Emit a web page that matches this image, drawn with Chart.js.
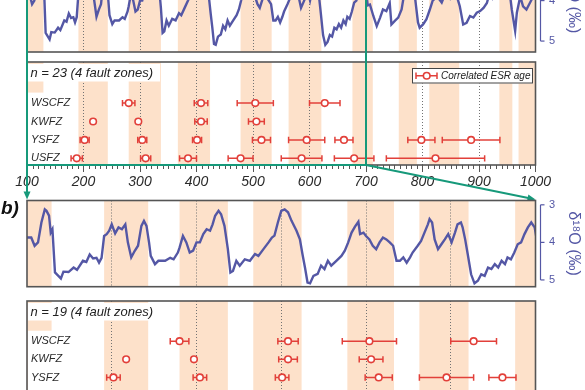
<!DOCTYPE html>
<html><head><meta charset="utf-8">
<script src="https://cdn.jsdelivr.net/npm/chart.js@4/dist/chart.umd.min.js"></script>
<style>
html,body{margin:0;padding:0;background:#fff;}
body{width:585px;height:390px;overflow:hidden;position:relative;}
canvas{position:absolute;left:0;}
</style></head><body>
<canvas id="c1" width="585" height="116" style="top:-60px"></canvas>
<canvas id="c2" width="585" height="146" style="top:54px"></canvas>
<canvas id="c3" width="585" height="98" style="top:192px"></canvas>
<canvas id="c4" width="585" height="115" style="top:292px"></canvas>
<script>
// ---------------- data ----------------
const d18oAge = [100,105,109,113,117,121,123,126,128,130,133,137,140,143,149,155,159,166,170,174,178,182,185,188,191,194,197,200,204,208,212,216,219,223,227,231,235,238,241,244,246,251,255,263,269,273,278,280,284,288,292,296,300,304,308,312,316,319,322,326,329,333,337,340,343,347,351,357,363,369,373,379,385,389,392,396,400,404,408,412,418,422,425,428,431,434,438,443,447,451,455,459,465,471,475,479,483,487,491,493,497,500,504,508,512,516,520,524,528,532,536,540,544,548,552,555,561,565,569,573,575,578,581,585,589,593,597,601,605,608,612,614,617,620,624,628,632,636,640,644,648,652,656,660,664,667,671,675,679,683,687,691,695,699,703,707,713,719,725,730,736,742,745,751,757,763,768,775,781,787,792,795,801,807,813,818,826,834,841,849,856,862,866,872,878,884,890,896,902,908,914,919,924,930,937,945,952,958,964,967,973,978,984,990,996,1000];
const d18oValue = [3.87,3.87,4.09,4.00,3.47,3.12,3.16,3.29,3.74,3.65,4.80,4.89,4.96,4.78,4.79,4.67,4.73,4.49,4.52,4.32,4.43,4.41,4.54,4.41,3.83,3.78,3.69,3.52,3.76,3.60,3.65,3.52,4.00,4.40,4.23,4.09,3.56,3.43,3.56,4.00,4.36,4.58,4.49,4.49,4.41,4.45,4.27,4.14,3.83,4.00,4.27,4.22,4.00,4.00,3.78,3.65,3.69,3.52,3.29,3.16,3.25,3.56,4.18,4.80,4.76,4.49,4.62,4.45,4.49,4.31,4.36,4.18,4.00,3.87,3.82,3.47,3.16,3.12,3.20,3.42,3.69,3.92,4.31,4.67,5.07,5.09,4.89,4.84,4.62,4.71,4.49,4.62,4.49,4.36,4.22,4.00,3.74,3.58,3.45,3.78,3.74,3.83,3.92,4.09,4.18,4.00,3.87,3.92,4.00,4.09,4.49,4.49,4.40,4.54,4.40,4.27,4.09,3.96,3.74,3.52,3.38,3.47,3.92,4.18,4.05,3.92,3.78,4.00,3.74,3.52,3.47,3.60,3.92,4.31,4.85,5.09,5.02,4.85,4.89,4.67,4.71,4.58,4.67,4.49,4.58,4.40,4.45,4.27,4.05,4.00,3.78,3.60,3.47,3.60,4.12,4.10,4.38,4.63,4.42,4.22,4.26,4.06,4.59,4.50,4.42,4.22,3.80,3.55,3.50,3.95,4.54,4.67,4.59,4.46,4.22,4.00,3.90,4.05,3.80,3.95,3.80,3.95,4.14,4.59,4.55,4.38,4.42,4.30,4.26,4.18,4.06,3.80,3.95,3.85,3.55,3.45,3.55,4.22,4.75,4.30,3.90,4.14,4.22,4.06,3.90,3.85];

// interglacial bands (ka)
const bandStart = [100,191,280,367,478,563,676,758,812,936,970];
const bandEnd   = [129,243,337,424,533,621,712,790,865,959,1000];

// ESR ages (ka) and half error (ka)
const faultZones = ['WSCFZ','KWFZ','YSFZ','USFZ'];
const wscfzAge = [280,408,504,627];           const wscfzErr = [11,12,32,27];
const kwfzAge  = [217,297,408,506];           const kwfzErr  = [1.5,1.5,11,14];
const ysfzAge  = [202,304,401,515,595,661,798,886]; const ysfzErr = [8,8,8,16,32,16,24,51];
const usfzAge  = [188,310,385,478,586,679,823];     const usfzErr = [10,9,15,22,36,35,87];

const xTickValues = [100,200,300,400,500,600,700,800,900,1000];
const yTickValues = [3,4,5];

// ---------------- style ----------------
const C = {band:'#fde1ca', curve:'#5457a5', red:'#e2403a', frame:'#555555',
           green:'#16997a', dot:'#737373', text:'#2a2a2a'};
const FONT = '"Liberation Sans", Arial, sans-serif';

function noPad(s){ s.paddingTop = 0; s.paddingBottom = 0; s.paddingLeft = 0; s.paddingRight = 0; }

// ---------------- helpers ----------------
function xDotted(min, max, showTicks){
  return {
    type:'linear', min, max,
    afterBuildTicks: s => { s.ticks = xTickValues.filter(v => v>=min && v<=max).map(v => ({value:v})); },
    afterFit: s => { s.height = showTicks ? 25 : 0; noPad(s); },
    grid:{display:true, drawOnChartArea:true, drawTicks:!!showTicks, tickLength:7,
          tickColor:C.frame, tickWidth:1, lineWidth:1,
          color: c => (c.tick && c.tick.value>min && c.tick.value<max) ? C.dot : 'rgba(0,0,0,0)'},
    border:{display:false, dash:[1,2]},
    ticks:{display:!!showTicks, color:C.text, padding:2, maxRotation:0, autoSkip:false,
           font:{family:FONT, size:14, style:'italic'}, callback: v => String(v)}
  };
}
function rightAxis(min, max){
  return {
    type:'linear', position:'right', reverse:true, min, max,
    afterBuildTicks: s => { s.ticks = yTickValues.map(v => ({value:v})); },
    afterFit: s => { s.width = 49.5; noPad(s); },
    grid:{display:false, drawTicks:false}, border:{display:false},
    ticks:{color:C.curve, padding:13.5, font:{family:FONT, size:11}, callback: v => String(v)},
    title:{display:true, text:'δ¹⁸O (‰)', color:C.curve, font:{family:FONT, size:16}, padding:{top:2,bottom:0}}
  };
}
function rowAxis(min, max){
  return {
    type:'linear', position:'left', reverse:true, min, max,
    afterBuildTicks: s => { s.ticks = faultZones.map((_,i) => ({value:i+1})); },
    afterFit: s => { s.width = 0; noPad(s); },
    grid:{display:false, drawTicks:false}, border:{display:false},
    ticks:{mirror:true, padding:4, z:1, color:C.text, font:{family:FONT, size:11, style:'italic'},
           callback: v => faultZones[v-1]}
  };
}
function curveData(){ return d18oAge.map((a,i) => ({x:a, y:d18oValue[i]})); }
function esrDatasets(){
  const zones = [[wscfzAge,wscfzErr],[kwfzAge,kwfzErr],[ysfzAge,ysfzErr],[usfzAge,usfzErr]];
  const pts = [], bars = [];
  zones.forEach(([ages,errs],i) => {
    ages.forEach((a,j) => {
      pts.push({x:a, y:i+1});
      bars.push({data:[{x:a-errs[j], y:i+1},{x:a+errs[j], y:i+1}], showLine:true, order:1,
        borderColor:C.red, borderWidth:1.5, pointStyle:'line', pointRotation:90,
        pointRadius:3.2, pointHoverRadius:3.2, pointBorderColor:C.red, pointBorderWidth:1.5});
    });
  });
  return [{data:pts, showLine:false, order:0, pointStyle:'circle', pointRadius:3.3, pointHoverRadius:3.3,
           pointBorderWidth:1.6, pointBorderColor:C.red, pointBackgroundColor:'#fff'}].concat(bars);
}

// ---------------- plugins ----------------
const bandsPlugin = {id:'bands', beforeDraw(chart){
  const {ctx, chartArea:a, scales:{x}} = chart;
  ctx.save(); ctx.beginPath(); ctx.rect(a.left,a.top,a.width,a.height); ctx.clip();
  ctx.fillStyle = C.band;
  for (let i=0;i<bandStart.length;i++){
    const x1 = x.getPixelForValue(bandStart[i]), x2 = x.getPixelForValue(bandEnd[i]);
    ctx.fillRect(x1, a.top, x2-x1, a.height);
  }
  ctx.restore();
}};
const framePlugin = {id:'frame', afterDraw(chart){
  const {ctx, chartArea:a} = chart;
  ctx.save(); ctx.strokeStyle = C.frame; ctx.lineWidth = 1.6;
  ctx.strokeRect(a.left, a.top, a.width, a.height); ctx.restore();
}};
const bracketPlugin = {id:'bracket', afterDraw(chart){
  const {ctx, chartArea:a, scales:{y}} = chart;
  const bx = a.right + 5;
  ctx.save(); ctx.strokeStyle = C.curve; ctx.lineWidth = 1.2;
  ctx.beginPath(); ctx.moveTo(bx, y.getPixelForValue(yTickValues[0])); ctx.lineTo(bx, y.getPixelForValue(yTickValues[yTickValues.length-1])); ctx.stroke();
  yTickValues.forEach(v => { const py = y.getPixelForValue(v); ctx.beginPath(); ctx.moveTo(bx, py); ctx.lineTo(bx+4, py); ctx.stroke(); });
  ctx.restore();
}};
function arrow(ctx, x1, y1, x2, y2){
  const ang = Math.atan2(y2-y1, x2-x1), L = 8, W = 3.5;
  ctx.beginPath(); ctx.moveTo(x1,y1); ctx.lineTo(x2-L*0.6*Math.cos(ang), y2-L*0.6*Math.sin(ang)); ctx.stroke();
  ctx.beginPath(); ctx.moveTo(x2,y2);
  ctx.lineTo(x2-L*Math.cos(ang)+W*Math.sin(ang), y2-L*Math.sin(ang)-W*Math.cos(ang));
  ctx.lineTo(x2-L*Math.cos(ang)-W*Math.sin(ang), y2-L*Math.sin(ang)+W*Math.cos(ang));
  ctx.closePath(); ctx.fill();
}
const greenTop = {id:'greenTop', afterDraw(chart){
  const {ctx, scales:{x}} = chart;
  ctx.save(); ctx.strokeStyle = C.green; ctx.lineWidth = 2;
  [100,700].forEach(v => { const px = x.getPixelForValue(v); ctx.beginPath(); ctx.moveTo(px,0); ctx.lineTo(px, chart.height); ctx.stroke(); });
  ctx.restore();
}};
const greenMid = {id:'greenMid', afterDraw(chart){
  const {ctx, chartArea:a, scales:{x}} = chart;
  const xl = x.getPixelForValue(100), xr = x.getPixelForValue(700), xe = x.getPixelForValue(1000);
  ctx.save(); ctx.strokeStyle = C.green; ctx.fillStyle = C.green; ctx.lineWidth = 2;
  ctx.beginPath(); ctx.moveTo(xl,0); ctx.lineTo(xl,a.bottom); ctx.lineTo(xr,a.bottom); ctx.lineTo(xr,0); ctx.stroke();
  arrow(ctx, xl, a.bottom, xl, chart.height-0.5);
  arrow(ctx, xr, a.bottom, xe, chart.height-0.5);
  ctx.restore();
}};
const minorTicks = {id:'minorTicks', afterDraw(chart){
  const {ctx, chartArea:a, scales:{x}} = chart;
  ctx.save(); ctx.strokeStyle = C.frame; ctx.lineWidth = 1;
  for (let v = x.min; v <= x.max; v += 10){
    if (v % 100 === 0) continue;
    const px = Math.round(x.getPixelForValue(v)) + 0.5;
    ctx.beginPath(); ctx.moveTo(px, a.bottom); ctx.lineTo(px, a.bottom+4); ctx.stroke();
  }
  ctx.restore();
}};
function labelBoxes(text){ return {id:'labelBoxes', beforeDatasetsDraw(chart){
  const {ctx, chartArea:a, scales:{y}} = chart;
  ctx.save(); ctx.fillStyle = '#fff';
  ctx.fillRect(a.left+1, a.top+2, 132, 17.5);
  const ry = y.getPixelForValue(1) - 10.5;
  ctx.fillRect(a.left+1, ry, 45, a.bottom-1-ry);
  ctx.fillStyle = '#222'; ctx.font = 'italic 13px ' + FONT; ctx.textBaseline = 'middle';
  ctx.fillText(text, a.left+3.5, a.top+11.3);
  ctx.restore();
}}; }
const legendPlugin = {id:'esrLegend', afterDraw(chart){
  const {ctx, chartArea:a} = chart;
  const bx = a.right-123.5, by = a.top+6, bw = 121, bh = 15.5, cy = by + bh/2;
  ctx.save();
  ctx.fillStyle = '#fff'; ctx.fillRect(bx,by,bw,bh);
  ctx.strokeStyle = '#444'; ctx.lineWidth = 1; ctx.strokeRect(bx+0.5,by+0.5,bw-1,bh-1);
  ctx.strokeStyle = C.red; ctx.lineWidth = 1.5;
  ctx.beginPath(); ctx.moveTo(bx+4,cy); ctx.lineTo(bx+25,cy); ctx.stroke();
  ctx.beginPath(); ctx.moveTo(bx+4,cy-3.2); ctx.lineTo(bx+4,cy+3.2); ctx.moveTo(bx+25,cy-3.2); ctx.lineTo(bx+25,cy+3.2); ctx.stroke();
  ctx.fillStyle = '#fff'; ctx.lineWidth = 1.6; ctx.beginPath(); ctx.arc(bx+14.7,cy,3.3,0,Math.PI*2); ctx.fill(); ctx.stroke();
  ctx.fillStyle = '#222'; ctx.font = 'italic 10px ' + FONT; ctx.textBaseline = 'middle';
  ctx.fillText('Correlated ESR age', bx+29, cy+0.5);
  ctx.restore();
}};
const panelLabel = {id:'panelLabel', afterDraw(chart){
  const ctx = chart.ctx; ctx.save(); ctx.fillStyle = '#111';
  ctx.font = 'italic bold 19px ' + FONT; ctx.textBaseline = 'alphabetic';
  ctx.fillText('b)', 1, 22); ctx.restore();
}};

const base = {responsive:false, animation:false, devicePixelRatio:1,
  plugins:{legend:{display:false}, tooltip:{enabled:false}}, events:[]};

// ---------------- charts ----------------
new Chart(document.getElementById('c1'), {type:'scatter',
  data:{datasets:[{data:curveData(), showLine:true, borderColor:C.curve, borderWidth:2.4, pointRadius:0, tension:0}]},
  options:Object.assign({}, base, {layout:{padding:{left:27, right:0, top:10, bottom:4}},
    scales:{x:xDotted(100,1000,false), y:rightAxis(2.75,5.27)}}),
  plugins:[bandsPlugin, framePlugin, bracketPlugin, greenTop]});

new Chart(document.getElementById('c2'), {type:'scatter',
  data:{datasets:esrDatasets()},
  options:Object.assign({}, base, {layout:{padding:{left:27, right:49.5, top:8, bottom:10}},
    scales:{x:xDotted(100,1000,true), y:rowAxis(-1.23,4.36)}}),
  plugins:[bandsPlugin, labelBoxes('n = 23 (4 fault zones)'), framePlugin, minorTicks, legendPlugin, greenMid]});

new Chart(document.getElementById('c3'), {type:'scatter',
  data:{datasets:[{data:curveData(), showLine:true, borderColor:C.curve, borderWidth:2.4, pointRadius:0, tension:0}]},
  options:Object.assign({}, base, {layout:{padding:{left:27, right:0, top:8.5, bottom:3.3}},
    scales:{x:xDotted(100,700,false), y:rightAxis(2.885,5.18)}}),
  plugins:[bandsPlugin, framePlugin, bracketPlugin, panelLabel]});

new Chart(document.getElementById('c4'), {type:'scatter',
  data:{datasets:esrDatasets()},
  options:Object.assign({}, base, {layout:{padding:{left:27, right:49.5, top:9, bottom:4}},
    scales:{x:xDotted(100,700,false), y:rowAxis(-1.22,4.36)}}),
  plugins:[bandsPlugin, labelBoxes('n = 19 (4 fault zones)'), framePlugin]});
</script>
</body></html>
